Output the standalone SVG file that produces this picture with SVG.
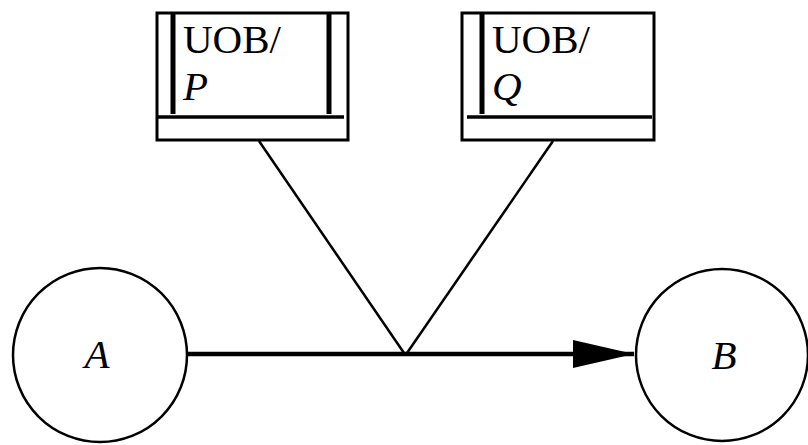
<svg xmlns="http://www.w3.org/2000/svg" width="808" height="445" viewBox="0 0 808 445">
<defs>
<style>
.box{fill:#fff;stroke:#000;stroke-width:3}
.bar{stroke:#000;stroke-width:5}
.sep{stroke:#000;stroke-width:3.5}
.circ{fill:#fff;stroke:#000;stroke-width:2.5}
.t{font-family:'Liberation Serif','Times New Roman',serif;font-size:41px;fill:#000}
.i{font-style:italic}
.ln{stroke:#000;stroke-width:2.5;fill:none}
.arr{stroke:#000;stroke-width:4.5;fill:none}
</style>
<marker id="ah" markerUnits="userSpaceOnUse" markerWidth="62" markerHeight="28" refX="61" refY="14" orient="auto">
<path d="M0,0 L61,14 L0,28 Z" fill="#000"/>
</marker>
</defs>
<g id="connectors">
<line class="ln" x1="259" y1="141" x2="404" y2="353"/>
<line class="ln" x1="553" y1="141" x2="407" y2="353"/>
<line class="arr" x1="188" y1="354" x2="634" y2="354" marker-end="url(#ah)"/>
</g>
<g id="P">
<rect class="box" x="157" y="13" width="191" height="127"/>
<line class="bar" x1="173" y1="13" x2="173" y2="114"/>
<line class="bar" x1="329" y1="13" x2="329" y2="114"/>
<line class="sep" x1="157" y1="117" x2="344" y2="117"/>
<text class="t" x="183" y="53">UOB/</text>
<text class="t i" x="183" y="100">P</text>
</g>
<g id="Q">
<rect class="box" x="462" y="13" width="192" height="127"/>
<line class="bar" x1="482" y1="13" x2="482" y2="114"/>
<line class="sep" x1="467" y1="117" x2="652" y2="117"/>
<text class="t" x="492" y="53">UOB/</text>
<text class="t i" x="492" y="100">Q</text>
</g>
<g id="A">
<circle class="circ" cx="100" cy="355" r="87"/>
<text class="t i" x="97" y="368" text-anchor="middle">A</text>
</g>
<g id="B">
<circle class="circ" cx="722" cy="355" r="86"/>
<text class="t i" x="724" y="369" text-anchor="middle">B</text>
</g>
</svg>
